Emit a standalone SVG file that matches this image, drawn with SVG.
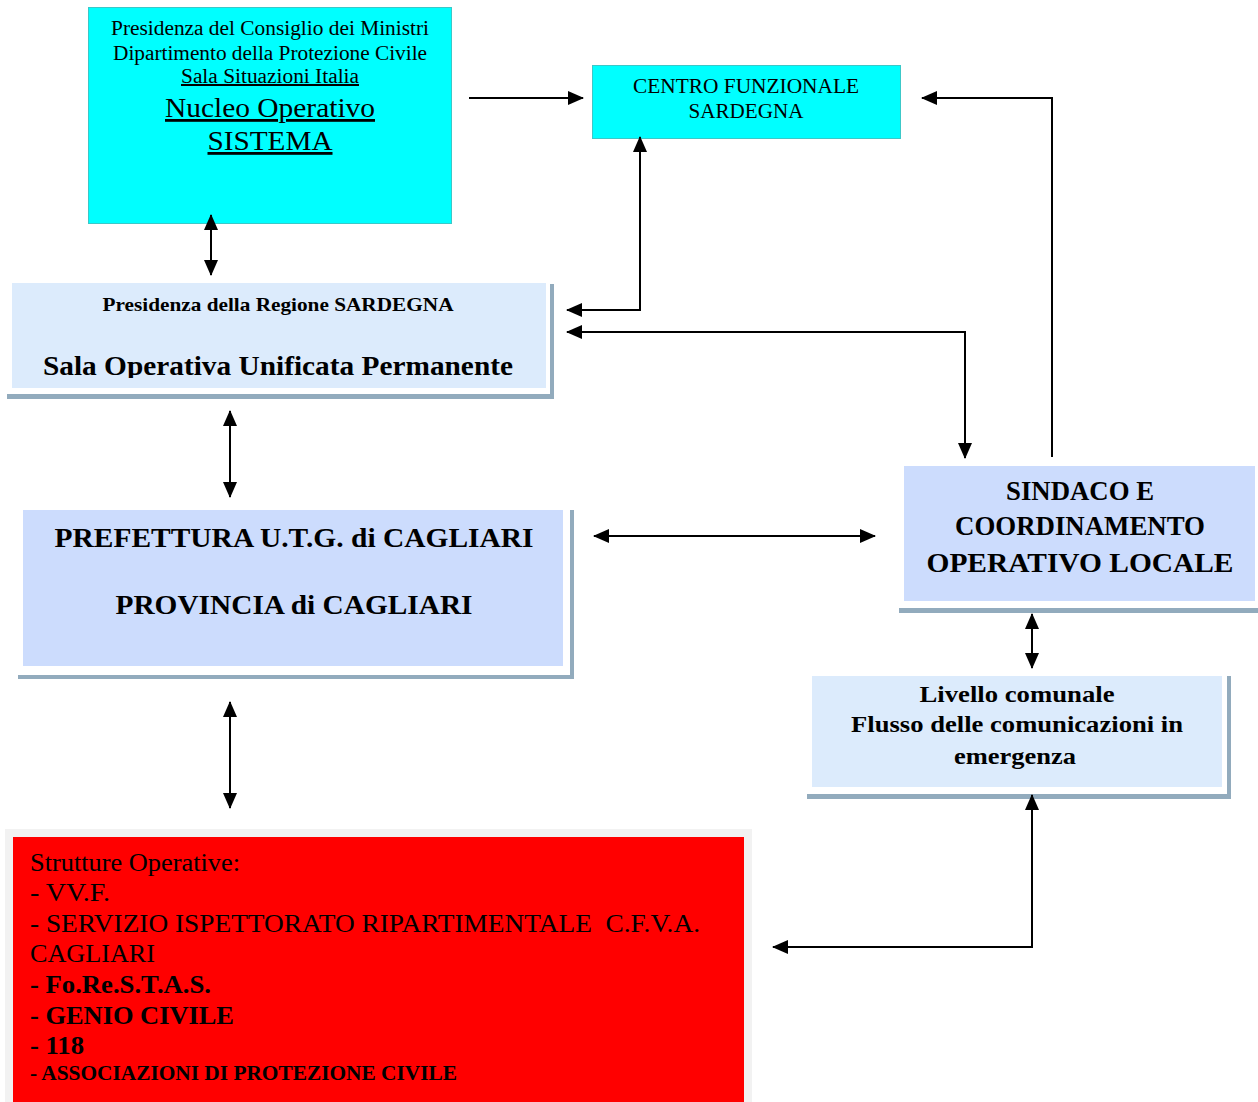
<svg xmlns="http://www.w3.org/2000/svg" width="1258" height="1102" viewBox="0 0 1258 1102">
<style>
text{font-family:"Times New Roman","Liberation Serif",Times,serif;fill:#000}
.c{text-anchor:middle}
.b{font-weight:bold}
.u{text-decoration:underline}
.cyan{fill:#00ffff;stroke:#3cc8c8;stroke-width:1}
.lb{fill:#dcebfc}
.lv{fill:#ccdcfd}
.sh{fill:#92abbd}
.fr{fill:#ffffff}
.ln{fill:none;stroke:#000;stroke-width:2}
</style>
<defs>
<marker id="ah" viewBox="0 0 16 14" refX="15" refY="7" markerWidth="16" markerHeight="14" markerUnits="userSpaceOnUse" orient="auto-start-reverse">
<path d="M0,0 L16,7 L0,14 z" fill="#000"/>
</marker>
<clipPath id="clip3"><rect x="0" y="280" width="560" height="98"/></clipPath>
</defs>
<rect x="0" y="0" width="1258" height="1102" fill="#ffffff"/>

<g id="node-dpc">
<rect class="cyan" x="88.5" y="7.5" width="363" height="216"/>
<text class="c" x="270" y="35" font-size="20" textLength="318" lengthAdjust="spacingAndGlyphs">Presidenza del Consiglio dei Ministri</text>
<text class="c" x="270" y="60" font-size="20" textLength="314" lengthAdjust="spacingAndGlyphs">Dipartimento della Protezione Civile</text>
<text class="c u" x="270" y="83" font-size="20" textLength="178" lengthAdjust="spacingAndGlyphs">Sala Situazioni Italia</text>
<text class="c u" x="270" y="117" font-size="28" textLength="210" lengthAdjust="spacingAndGlyphs">Nucleo Operativo</text>
<text class="c u" x="270" y="150" font-size="28" textLength="125" lengthAdjust="spacingAndGlyphs">SISTEMA</text>
</g>

<g id="node-cfs">
<rect class="cyan" x="592.5" y="65.5" width="308" height="73"/>
<text class="c" x="746" y="93" font-size="20" textLength="226" lengthAdjust="spacingAndGlyphs">CENTRO FUNZIONALE</text>
<text class="c" x="746" y="118" font-size="20" textLength="115" lengthAdjust="spacingAndGlyphs">SARDEGNA</text>
</g>

<g id="node-soup">
<rect class="sh" x="7" y="284" width="547" height="115"/>
<rect class="fr" x="7" y="279" width="543" height="115"/>
<rect class="lb" x="12" y="283" width="534" height="105"/>
<text class="c b" x="278" y="311" font-size="19" textLength="351" lengthAdjust="spacingAndGlyphs">Presidenza della Regione SARDEGNA</text>
<text class="c b" x="278" y="375" font-size="27" textLength="470" lengthAdjust="spacingAndGlyphs" clip-path="url(#clip3)">Sala Operativa Unificata Permanente</text>
</g>

<g id="node-prefettura">
<rect class="sh" x="18" y="510" width="556" height="169"/>
<rect class="fr" x="18" y="505" width="552" height="170"/>
<rect class="lv" x="23" y="510" width="540" height="156"/>
<text class="c b" x="294" y="547" font-size="28" textLength="479" lengthAdjust="spacingAndGlyphs">PREFETTURA U.T.G. di CAGLIARI</text>
<text class="c b" x="294" y="614" font-size="28" textLength="357" lengthAdjust="spacingAndGlyphs">PROVINCIA di CAGLIARI</text>
</g>

<g id="node-sindaco">
<rect class="sh" x="899" y="466" width="365" height="147"/>
<rect class="fr" x="899" y="461" width="365" height="147"/>
<rect class="lv" x="904" y="466" width="351" height="135"/>
<text class="c b" x="1080" y="500" font-size="27" textLength="148" lengthAdjust="spacingAndGlyphs">SINDACO E</text>
<text class="c b" x="1080" y="535" font-size="27" textLength="250" lengthAdjust="spacingAndGlyphs">COORDINAMENTO</text>
<text class="c b" x="1080" y="572" font-size="27" textLength="307" lengthAdjust="spacingAndGlyphs">OPERATIVO LOCALE</text>
</g>

<g id="node-livello">
<rect class="sh" x="807" y="676" width="424" height="123"/>
<rect class="fr" x="807" y="671" width="420" height="123"/>
<rect class="lb" x="812" y="676" width="410" height="111"/>
<text class="c b" x="1017" y="702" font-size="24" textLength="195" lengthAdjust="spacingAndGlyphs">Livello comunale</text>
<text class="c b" x="1017" y="732" font-size="24" textLength="332" lengthAdjust="spacingAndGlyphs">Flusso delle comunicazioni in</text>
<text class="c b" x="1015" y="764" font-size="24" textLength="122" lengthAdjust="spacingAndGlyphs">emergenza</text>
</g>

<g id="node-strutture">
<rect x="5" y="829" width="747" height="273" fill="#f2f2f2"/>
<rect x="13" y="837" width="731" height="265" fill="#ff0000"/>
<text x="30" y="871" font-size="26" textLength="210" lengthAdjust="spacingAndGlyphs">Strutture Operative:</text>
<text x="30" y="901" font-size="26" textLength="80" lengthAdjust="spacingAndGlyphs">- VV.F.</text>
<text x="30" y="932" font-size="26" textLength="670" lengthAdjust="spacingAndGlyphs">- SERVIZIO ISPETTORATO RIPARTIMENTALE &#160;C.F.V.A.</text>
<text x="30" y="962" font-size="26" textLength="125" lengthAdjust="spacingAndGlyphs">CAGLIARI</text>
<text class="b" x="30" y="993" font-size="26" textLength="181" lengthAdjust="spacingAndGlyphs">- Fo.Re.S.T.A.S.</text>
<text class="b" x="30" y="1024" font-size="26" textLength="204" lengthAdjust="spacingAndGlyphs">- GENIO CIVILE</text>
<text class="b" x="30" y="1054" font-size="26" textLength="54" lengthAdjust="spacingAndGlyphs">- 118</text>
<text class="b" x="30" y="1080" font-size="20" textLength="427" lengthAdjust="spacingAndGlyphs">- ASSOCIAZIONI DI PROTEZIONE CIVILE</text>
</g>

<g id="connectors">
<line class="ln" x1="469" y1="98" x2="583" y2="98" marker-end="url(#ah)"/>
<line class="ln" x1="211" y1="215" x2="211" y2="275" marker-start="url(#ah)" marker-end="url(#ah)"/>
<polyline class="ln" points="640,137 640,310 567,310" marker-start="url(#ah)" marker-end="url(#ah)"/>
<polyline class="ln" points="965,458 965,332 567,332" marker-start="url(#ah)" marker-end="url(#ah)"/>
<polyline class="ln" points="1052,457 1052,98 922,98" marker-end="url(#ah)"/>
<line class="ln" x1="230" y1="411" x2="230" y2="497" marker-start="url(#ah)" marker-end="url(#ah)"/>
<line class="ln" x1="594" y1="536" x2="875" y2="536" marker-start="url(#ah)" marker-end="url(#ah)"/>
<line class="ln" x1="1032" y1="614" x2="1032" y2="668" marker-start="url(#ah)" marker-end="url(#ah)"/>
<line class="ln" x1="230" y1="702" x2="230" y2="808" marker-start="url(#ah)" marker-end="url(#ah)"/>
<polyline class="ln" points="1032,795 1032,947 773,947" marker-start="url(#ah)" marker-end="url(#ah)"/>
</g>
</svg>
